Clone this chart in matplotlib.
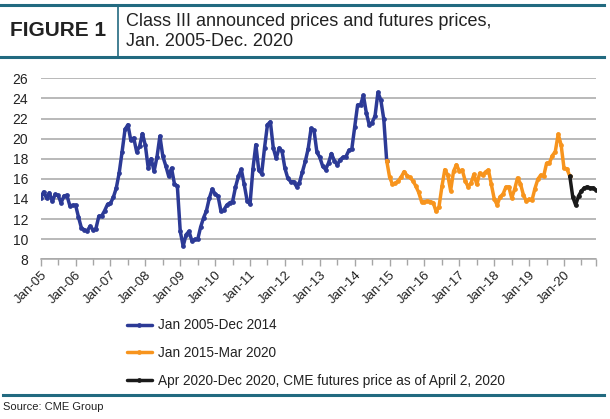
import matplotlib
matplotlib.use("Agg")
import matplotlib.pyplot as plt
from matplotlib import font_manager
from matplotlib.lines import Line2D
import numpy as np

# ---------------- data ----------------
year_labels = ["Jan-05", "Jan-06", "Jan-07", "Jan-08", "Jan-09", "Jan-10", "Jan-11", "Jan-12",
               "Jan-13", "Jan-14", "Jan-15", "Jan-16", "Jan-17", "Jan-18", "Jan-19", "Jan-20"]

# Jan 2005 - Dec 2014 (monthly)
blue_values = [
    14.14, 14.70, 14.08, 14.61, 13.77, 14.46, 14.35, 13.61, 14.30, 14.37, 13.35, 13.37,   # 2005
    13.39, 12.20, 11.11, 10.93, 10.83, 11.29, 10.92, 11.06, 12.29, 12.32, 12.84, 13.47,   # 2006
    13.56, 14.18, 15.09, 16.60, 18.70, 20.91, 21.38, 19.83, 20.07, 18.70, 19.22, 20.50,   # 2007
    19.32, 17.03, 18.00, 16.76, 18.18, 20.25, 18.24, 17.32, 16.28, 17.06, 15.51, 15.28,   # 2008
    10.78, 9.31, 10.44, 10.78, 9.84, 9.97, 9.97, 11.20, 12.11, 12.82, 14.08, 14.98,       # 2009
    14.50, 14.28, 12.78, 12.92, 13.38, 13.62, 13.74, 15.18, 16.26, 16.94, 15.44, 13.83,   # 2010
    13.48, 17.00, 19.40, 16.87, 16.52, 19.11, 21.39, 21.67, 19.07, 18.03, 19.07, 18.77,   # 2011
    17.05, 16.06, 15.72, 15.72, 15.23, 15.63, 16.68, 17.73, 19.00, 21.02, 20.83, 18.66,   # 2012
    18.14, 17.25, 16.93, 17.59, 18.52, 17.81, 17.38, 17.91, 18.14, 18.22, 18.83, 18.95,   # 2013
    21.15, 23.35, 23.33, 24.31, 22.57, 21.36, 21.60, 22.25, 24.60, 23.82, 21.94, 17.82,   # 2014
]

# Dec 2014 (joining point) + Jan 2015 - Mar 2020
orange_values = [
    17.82,
    16.18, 15.46, 15.56, 15.81, 16.19, 16.72, 16.33, 16.14, 15.82, 15.30, 14.66, 13.73,   # 2015
    13.72, 13.80, 13.74, 13.63, 12.76, 13.22, 15.24, 16.91, 16.39, 14.82, 16.76, 17.40,   # 2016
    16.77, 16.88, 15.81, 15.22, 15.57, 16.44, 15.45, 16.57, 16.36, 16.69, 16.88, 15.44,   # 2017
    14.00, 13.40, 14.22, 14.47, 15.18, 15.21, 14.10, 14.95, 16.09, 15.53, 14.44, 13.78,   # 2018
    13.96, 13.89, 15.04, 15.96, 16.38, 16.27, 17.55, 17.60, 18.31, 18.72, 20.45, 19.37,   # 2019
    17.05, 17.00, 16.25,                                                                   # 2020
]

# Mar 2020 (joining point) + Apr - Dec 2020 futures
black_values = [16.25, 14.2, 13.4, 14.3, 14.8, 15.1, 15.2, 15.1, 15.1, 14.9]

series_labels = ["Jan 2005-Dec 2014", "Jan 2015-Mar 2020",
                 "Apr 2020-Dec 2020, CME futures price as of April 2, 2020"]
y_ticks = [8, 10, 12, 14, 16, 18, 20, 22, 24, 26]

# ---------------- fonts ----------------
def pick(names):
    for n in names:
        try:
            font_manager.findfont(n, fallback_to_default=False)
            return n
        except Exception:
            pass
    return "DejaVu Sans"

body_font = pick(["Liberation Sans", "Arial", "DejaVu Sans"])
narrow_font = pick(["Liberation Sans Narrow", "Liberation Sans"])
plt.rcParams["font.family"] = [body_font, "DejaVu Sans"]

BLUE = "#2c3a96"
ORANGE = "#f7941d"
BLACK = "#1a1a1a"
TEAL = "#226a80"
GRID = "#a6a6a6"

fig = plt.figure(figsize=(6.10, 4.19), dpi=100)
W, H = 610, 419

def fx(px):
    return px / W

def fy(py):
    return 1 - py / H

ax = fig.add_axes([fx(40.7), fy(259.3), fx(596) - fx(40.7), fy(78.3) - fy(259.3)])

n_blue = len(blue_values)
x_blue = np.arange(n_blue)
x_orange = np.arange(n_blue - 1, n_blue - 1 + len(orange_values))
x_black = np.arange(x_orange[-1], x_orange[-1] + len(black_values))

kw = dict(lw=2.5, marker="o", markersize=2.4, solid_joinstyle="round", solid_capstyle="round", zorder=3)
ax.plot(x_blue, blue_values, color=BLUE, label=series_labels[0], **kw)
ax.plot(x_orange, orange_values, color=ORANGE, label=series_labels[1], **kw)
ax.plot(x_black, black_values, color=BLACK, label=series_labels[2], **kw)

last = x_black[-1]
ax.set_xlim(0, last)
ax.set_ylim(8, 26)
ax.set_yticks(y_ticks)
ax.set_yticklabels([str(v) for v in y_ticks], fontsize=10, color="#222222")
ax.yaxis.grid(True, color=GRID, lw=1.1)
ax.set_axisbelow(True)

major = list(range(0, 12 * len(year_labels), 12)) + [last]
ax.set_xticks(major)
ax.set_xticklabels(year_labels + [""], rotation=45, ha="right", rotation_mode="anchor",
                   fontsize=9.5, color="#222222")
ax.set_xticks(list(range(6, last + 1, 12)), minor=True)
ax.tick_params(axis="x", which="major", direction="out", length=5, width=1, color=GRID, pad=2)
ax.tick_params(axis="x", which="minor", direction="out", length=4, width=1, color=GRID)
ax.tick_params(axis="y", length=0, pad=9)

for s in ["top", "right", "left"]:
    ax.spines[s].set_visible(False)
ax.spines["bottom"].set_color(GRID)
ax.spines["bottom"].set_linewidth(1.1)

# legend
leg = ax.legend(loc="center left", bbox_to_anchor=(fx(127), fy(353)), bbox_transform=fig.transFigure,
                frameon=False, fontsize=9.8, handlelength=1.8, handletextpad=0.45,
                labelspacing=1.0, borderpad=0, borderaxespad=0)
for t in leg.get_texts():
    t.set_color("#222222")

# header
fig.add_artist(Line2D([0, fx(604)], [fy(5), fy(5)], color=TEAL, lw=2.2, transform=fig.transFigure))
fig.add_artist(Line2D([0, fx(604)], [fy(57.5), fy(57.5)], color=TEAL, lw=2.2, transform=fig.transFigure))
fig.add_artist(Line2D([fx(118), fx(118)], [fy(6), fy(57)], color=TEAL, lw=1.2, transform=fig.transFigure))
fig.text(fx(10), fy(31), "FIGURE 1", fontsize=15, fontweight="bold", color="#222222",
         family=[narrow_font, body_font], va="center", ha="left")
fig.text(fx(126), fy(21), "Class III announced prices and futures prices,", fontsize=13,
         color="#222222", family=[narrow_font, body_font], va="center", ha="left")
fig.text(fx(126), fy(42), "Jan. 2005-Dec. 2020", fontsize=13,
         color="#222222", family=[narrow_font, body_font], va="center", ha="left")

# footer
fig.add_artist(Line2D([fx(3), fx(604)], [fy(395), fy(395)], color=TEAL, lw=2.2, transform=fig.transFigure))
fig.text(fx(3), fy(407), "Source: CME Group", fontsize=8, color="#222222", va="center", ha="left")

fig.savefig("out.png", dpi=100)
